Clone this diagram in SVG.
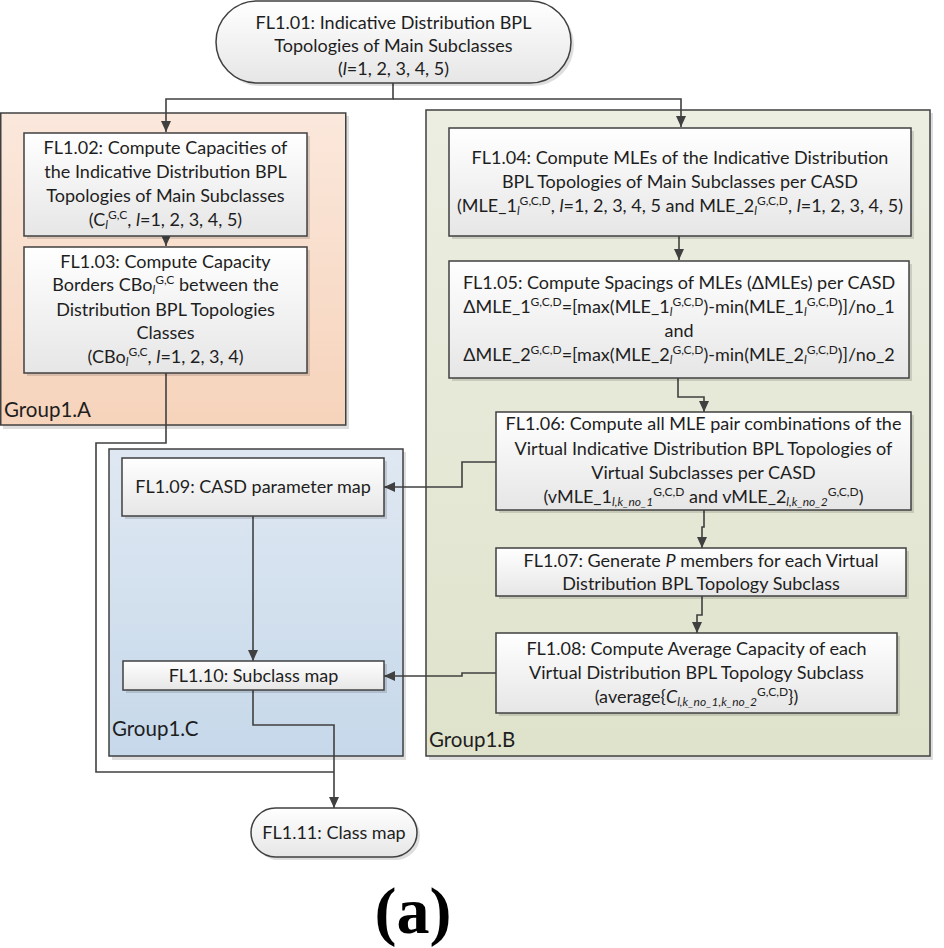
<svg xmlns="http://www.w3.org/2000/svg" width="944" height="948" viewBox="0 0 944 948">
<defs>
<linearGradient id="gBox" x1="0" y1="0" x2="0" y2="1"><stop offset="0" stop-color="#ffffff"/><stop offset="1" stop-color="#e6e6e6"/></linearGradient>
<linearGradient id="gA" x1="0" y1="0" x2="0" y2="1"><stop offset="0" stop-color="#fbe8dc"/><stop offset="1" stop-color="#f6d3bb"/></linearGradient>
<linearGradient id="gB" x1="0" y1="0" x2="0" y2="1"><stop offset="0" stop-color="#eceee2"/><stop offset="1" stop-color="#dfe3cb"/></linearGradient>
<linearGradient id="gC" x1="0" y1="0" x2="0" y2="1"><stop offset="0" stop-color="#dfe8f2"/><stop offset="1" stop-color="#c6d8ea"/></linearGradient>
<marker id="arr" markerUnits="userSpaceOnUse" markerWidth="12" markerHeight="10" refX="11" refY="5" orient="auto"><path d="M0,0 L11,5 L0,10 Z" fill="#404040"/></marker>
</defs>
<style>
.grp{stroke:#404040;stroke-width:1.5}
.box{fill:url(#gBox);stroke:#404040;stroke-width:1.5}
.sh{fill:#000;opacity:0.13}
text{font-family:Lato,"Liberation Sans",sans-serif;font-size:18px;fill:#1e1e1e}
.c{text-anchor:middle}
.lbl{font-size:20.5px}
.s{font-size:12px}
.i{font-style:italic}
.conn{fill:none;stroke:#404040;stroke-width:1.6}
.a{marker-end:url(#arr)}
.cap{font-family:"Liberation Serif",serif;font-weight:bold;font-size:66px;fill:#000}
</style>

<g id="group1A">
<rect x="3" y="116" width="346" height="313" class="sh"/>
<rect x="0.75" y="113" width="345" height="312" fill="url(#gA)" class="grp"/>
<text x="4" y="417" class="lbl">Group1.A</text>
</g>
<g id="group1B">
<rect x="429" y="113" width="504" height="647" class="sh"/>
<rect x="426" y="110" width="504" height="646" fill="url(#gB)" class="grp"/>
<text x="429" y="747" class="lbl">Group1.B</text>
</g>
<g id="group1C">
<rect x="112" y="452" width="294" height="308" class="sh"/>
<rect x="109" y="449" width="294" height="307" fill="url(#gC)" class="grp"/>
<text x="112" y="736" class="lbl">Group1.C</text>
</g>

<g id="connectors">
<path class="conn a" d="M393,83 V99 H166 V132"/>
<path class="conn a" d="M393,99 H681 V127"/>
<path class="conn a" d="M166,236 V246"/>
<path class="conn a" d="M679,236 V260"/>
<path class="conn a" d="M678,378 V397 H704 V412"/>
<path class="conn a" d="M496,462 H462 V487 H384"/>
<path class="conn a" d="M704,510 V527 H702 V548"/>
<path class="conn a" d="M702,596 V615 H697 V633"/>
<path class="conn a" d="M496,673 H462 V676 H384"/>
<path class="conn a" d="M253,516 V661"/>
<path class="conn" d="M166,373 V443 H96 V772 H334"/>
<path class="conn a" d="M253,690 V725 H334 V808"/>
</g>

<g id="FL1.01">
<rect x="219" y="4" width="355" height="82" rx="41" class="sh"/>
<rect x="216" y="1" width="355" height="82" rx="41" class="box"/>
<text x="393.5" y="29" class="c">FL1.01: Indicative Distribution BPL</text>
<text x="393.5" y="52" class="c">Topologies of Main Subclasses</text>
<text x="393.5" y="75" class="c">(<tspan class="i">l</tspan>=1, 2, 3, 4, 5)</text>
</g>

<g id="FL1.02">
<rect x="27" y="136" width="283" height="103" class="sh"/>
<rect x="24" y="133" width="283" height="103" class="box"/>
<text x="165.5" y="154" class="c">FL1.02: Compute Capacities of</text>
<text x="165.5" y="178" class="c">the Indicative Distribution BPL</text>
<text x="165.5" y="202" class="c">Topologies of Main Subclasses</text>
<text x="165.5" y="226" class="c">(C<tspan class="s i" dy="3">l</tspan><tspan class="s" dy="-10">G,C</tspan><tspan dy="7">, </tspan><tspan class="i">l</tspan>=1, 2, 3, 4, 5)</text>
</g>

<g id="FL1.03">
<rect x="27" y="250" width="283" height="126" class="sh"/>
<rect x="24" y="247" width="283" height="126" class="box"/>
<text x="165.5" y="268" class="c">FL1.03: Compute Capacity</text>
<text x="165.5" y="291" class="c">Borders CBo<tspan class="s i" dy="3">l</tspan><tspan class="s" dy="-10">G,C</tspan><tspan dy="7"> between the</tspan></text>
<text x="165.5" y="316" class="c">Distribution BPL Topologies</text>
<text x="165.5" y="339" class="c">Classes</text>
<text x="165.5" y="363" class="c">(CBo<tspan class="s i" dy="3">l</tspan><tspan class="s" dy="-10">G,C</tspan><tspan dy="7">, </tspan><tspan class="i">l</tspan>=1, 2, 3, 4)</text>
</g>

<g id="FL1.04">
<rect x="452" y="131" width="462" height="108" class="sh"/>
<rect x="449" y="128" width="462" height="108" class="box"/>
<text x="680" y="164" class="c">FL1.04: Compute MLEs of the Indicative Distribution</text>
<text x="680" y="188" class="c">BPL Topologies of Main Subclasses per CASD</text>
<text x="680" y="212" class="c">(MLE_1<tspan class="s i" dy="3">l</tspan><tspan class="s" dy="-10">G,C,D</tspan><tspan dy="7">, </tspan><tspan class="i">l</tspan>=1, 2, 3, 4, 5 and MLE_2<tspan class="s i" dy="3">l</tspan><tspan class="s" dy="-10">G,C,D</tspan><tspan dy="7">, </tspan><tspan class="i">l</tspan>=1, 2, 3, 4, 5)</text>
</g>

<g id="FL1.05">
<rect x="452" y="264" width="460" height="117" class="sh"/>
<rect x="449" y="261" width="460" height="117" class="box"/>
<text x="679" y="289" class="c">FL1.05: Compute Spacings of MLEs (ΔMLEs) per CASD</text>
<text x="679" y="313" class="c">ΔMLE_1<tspan class="s" dy="-7">G,C,D</tspan><tspan dy="7">=[max(MLE_1</tspan><tspan class="s i" dy="3">l</tspan><tspan class="s" dy="-10">G,C,D</tspan><tspan dy="7">)-min(MLE_1</tspan><tspan class="s i" dy="3">l</tspan><tspan class="s" dy="-10">G,C,D</tspan><tspan dy="7">)]/no_1</tspan></text>
<text x="679" y="337" class="c">and</text>
<text x="679" y="361" class="c">ΔMLE_2<tspan class="s" dy="-7">G,C,D</tspan><tspan dy="7">=[max(MLE_2</tspan><tspan class="s i" dy="3">l</tspan><tspan class="s" dy="-10">G,C,D</tspan><tspan dy="7">)-min(MLE_2</tspan><tspan class="s i" dy="3">l</tspan><tspan class="s" dy="-10">G,C,D</tspan><tspan dy="7">)]/no_2</tspan></text>
</g>

<g id="FL1.06">
<rect x="499" y="415" width="415" height="98" class="sh"/>
<rect x="496" y="412" width="415" height="98" class="box"/>
<text x="703.5" y="430" class="c">FL1.06: Compute all MLE pair combinations of the</text>
<text x="703.5" y="455" class="c">Virtual Indicative Distribution BPL Topologies of</text>
<text x="703.5" y="479" class="c">Virtual Subclasses per CASD</text>
<text x="703.5" y="503" class="c">(vMLE_1<tspan class="s i" dy="3">l,k_no_1</tspan><tspan class="s" dy="-10">G,C,D</tspan><tspan dy="7"> and vMLE_2</tspan><tspan class="s i" dy="3">l,k_no_2</tspan><tspan class="s" dy="-10">G,C,D</tspan><tspan dy="7">)</tspan></text>
</g>

<g id="FL1.07">
<rect x="499" y="551" width="410" height="48" class="sh"/>
<rect x="496" y="548" width="410" height="48" class="box"/>
<text x="701" y="567" class="c">FL1.07: Generate <tspan class="i">P</tspan> members for each Virtual</text>
<text x="701" y="590" class="c">Distribution BPL Topology Subclass</text>
</g>

<g id="FL1.08">
<rect x="499" y="636" width="401" height="80" class="sh"/>
<rect x="496" y="633" width="401" height="80" class="box"/>
<text x="696.5" y="655" class="c">FL1.08: Compute Average Capacity of each</text>
<text x="696.5" y="679" class="c">Virtual Distribution BPL Topology Subclass</text>
<text x="696.5" y="703" class="c">(average{<tspan class="i">C</tspan><tspan class="s i" dy="3">l,k_no_1,k_no_2</tspan><tspan class="s" dy="-10">G,C,D</tspan><tspan dy="7">})</tspan></text>
</g>

<g id="FL1.09">
<rect x="125" y="461" width="262" height="58" class="sh"/>
<rect x="122" y="458" width="262" height="58" class="box"/>
<text x="253" y="493" class="c">FL1.09: CASD parameter map</text>
</g>

<g id="FL1.10">
<rect x="126" y="664" width="261" height="29" class="sh"/>
<rect x="123" y="661" width="261" height="29" class="box"/>
<text x="253.5" y="682" class="c">FL1.10: Subclass map</text>
</g>

<g id="FL1.11">
<rect x="254" y="811" width="166" height="49" rx="24.5" class="sh"/>
<rect x="251" y="808" width="166" height="49" rx="24.5" class="box"/>
<text x="334" y="839" class="c">FL1.11: Class map</text>
</g>

<text x="413" y="933" class="cap c">(a)</text>
</svg>
